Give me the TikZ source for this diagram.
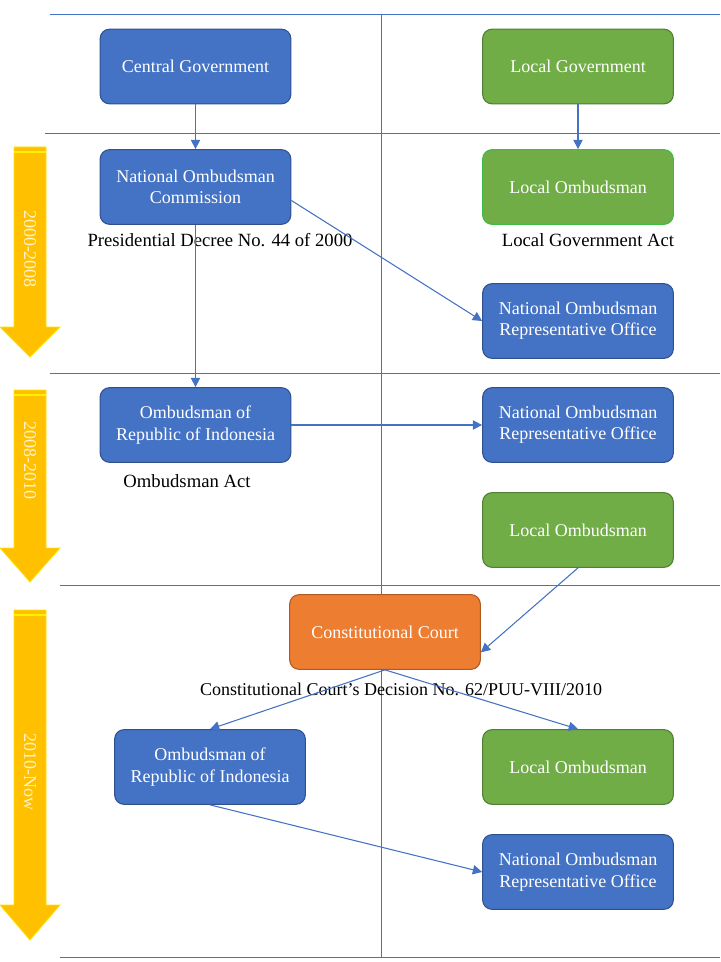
\documentclass[tikz,border=0pt]{standalone}
\usepackage{fontspec}
\setmainfont{Liberation Serif}
\usetikzlibrary{arrows.meta}
\definecolor{boxblue}{HTML}{4472C4}
\definecolor{edgeblue}{HTML}{2F528F}
\definecolor{boxgreen}{HTML}{70AD47}
\definecolor{edgegreen}{HTML}{507E32}
\definecolor{lightedge}{HTML}{3DBB45}
\definecolor{boxorange}{HTML}{ED7D31}
\definecolor{edgeorange}{HTML}{AE5A21}
\definecolor{gold}{HTML}{FFC000}
\definecolor{paleyellow}{HTML}{FFF2CC}
\begin{document}
\begin{tikzpicture}[x=0.75pt,y=-0.75pt,
  box/.style={rectangle, rounded corners=7pt, minimum width=143pt, minimum height=56pt,
    inner sep=0pt, align=center, text=white, line width=0.8pt,
    font=\fontsize{13.5}{16}\selectfont},
  bluebox/.style={box, fill=boxblue, draw=edgeblue},
  greenbox/.style={box, fill=boxgreen, draw=edgegreen},
  orangebox/.style={box, fill=boxorange, draw=edgeorange},
  act/.style={font=\fontsize{14}{16}\selectfont, inner sep=0pt},
  era/.style={rotate=-90, text=paleyellow, font=\fontsize{13.5}{16}\selectfont, inner sep=0pt},
  grid/.style={boxblue, line width=0.6pt},
  link/.style={boxblue, line width=0.8pt, -{Triangle[length=7pt,width=7pt]}},
  timeline/.style={fill=gold, draw=yellow!70!gold, line width=0.6pt}]
\useasboundingbox (0,0) rectangle (720,962);
% grid
\draw[grid] (50,14) -- (720,14);
\draw[grid] (45,133) -- (720,133);
\draw[grid] (50,373) -- (720,373);
\draw[grid] (60,585) -- (720,585);
\draw[grid] (60,957) -- (720,957);
\draw[grid] (381,14) -- (381,957);
% time arrows
\draw[timeline] (14,147) -- (46,147) -- (46,327) -- (60,327) -- (30,357) -- (0,327) -- (14,327) -- cycle;
\draw[yellow, line width=1pt] (14,152) -- (46,152);
\draw[timeline] (14,390) -- (46,390) -- (46,548) -- (60,548) -- (30,582) -- (0,548) -- (14,548) -- cycle;
\draw[yellow, line width=1pt] (14,395) -- (46,395);
\draw[timeline] (14,610) -- (46,610) -- (46,905) -- (60,905) -- (30,940) -- (0,905) -- (14,905) -- cycle;
\draw[yellow, line width=1pt] (14,615) -- (46,615);
\node[era] (era1) at (30,249) {2000-2008};
\node[era] (era2) at (30,460) {2008-2010};
\node[era] (era3) at (30,772) {2010-Now};
% boxes
\node[bluebox] (cgov) at (195.5,66.5) {Central Government};
\node[greenbox] (lgov) at (578,66.5) {Local Government};
\node[bluebox] (noc) at (195.5,187) {National Ombudsman\\Commission};
\node[greenbox, draw=lightedge] (lomb1) at (578,187) {Local Ombudsman};
\node[bluebox] (noro1) at (578,321) {National Ombudsman\\Representative Office};
\node[bluebox] (ori1) at (195.5,425) {Ombudsman of\\Republic of Indonesia};
\node[bluebox] (noro2) at (578,425) {National Ombudsman\\Representative Office};
\node[greenbox] (lomb2) at (578,530) {Local Ombudsman};
\node[orangebox] (court) at (385,632) {Constitutional Court};
\node[bluebox] (ori3) at (210,767) {Ombudsman of\\Republic of Indonesia};
\node[greenbox] (lomb3) at (578,767) {Local Ombudsman};
\node[bluebox] (noro3) at (578,872) {National Ombudsman\\Representative Office};
% acts
\node[act] (decree) at (220,240) {Presidential Decree No. 44 of 2000};
\node[act] (lgact) at (588,240) {Local Government Act};
\node[act] (oact) at (187,481) {Ombudsman Act};
\node[act, font=\fontsize{13.5}{16}\selectfont] (ccdec) at (401,689) {Constitutional Court’s Decision No. 62/PUU-VIII/2010};
% links
\draw[link] (cgov) -- (noc);
\draw[link] (lgov) -- (lomb1);
\draw[link] (noc.-8) -- (noro1.west);
\draw[link] (noc) -- (ori1);
\draw[link] (ori1) -- (noro2);
\draw[link] (lomb2.south) -- (court.-12);
\draw[link] (court.south) -- (ori3.north);
\draw[link] (court.south) -- (lomb3.north);
\draw[link] (ori3.south) -- (noro3.west);
\end{tikzpicture}
\end{document}
